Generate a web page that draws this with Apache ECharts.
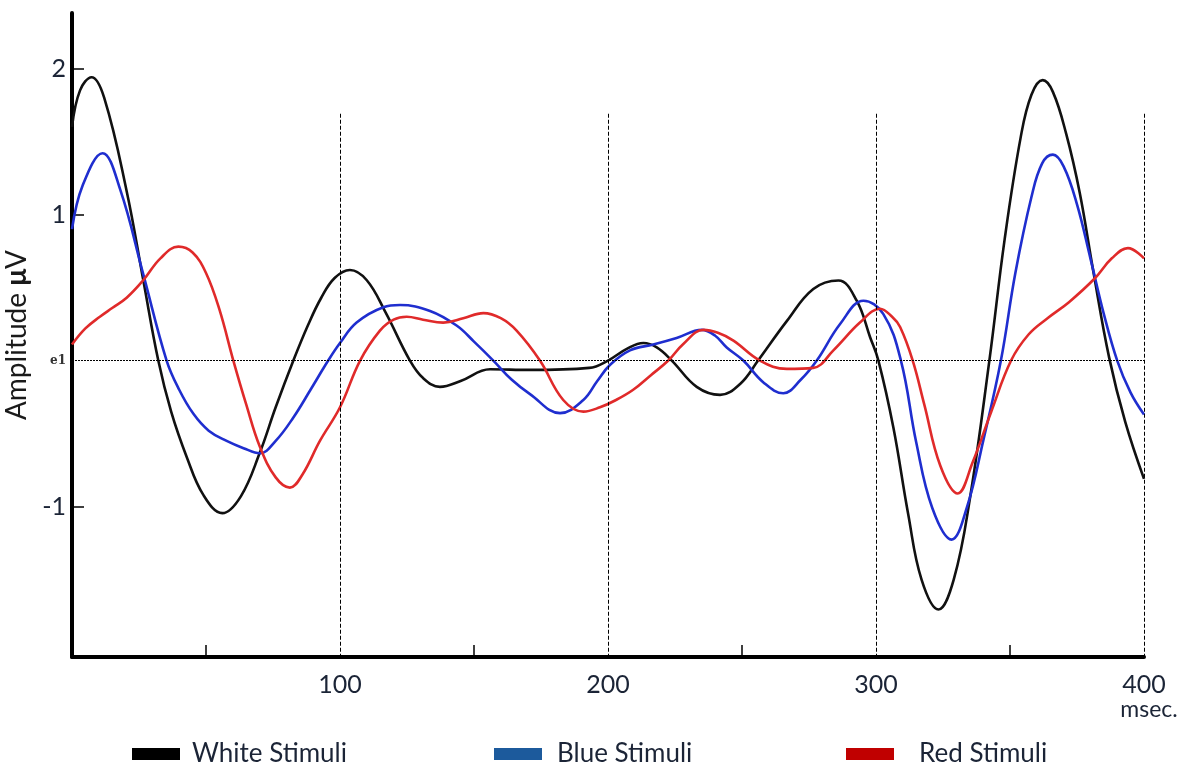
<!DOCTYPE html>
<html>
<head>
<meta charset="utf-8">
<script src="https://cdn.jsdelivr.net/npm/echarts@6/dist/echarts.min.js"></script>
<style>
html, body { margin: 0; padding: 0; background: #ffffff; }
#chart { width: 1186px; height: 767px; }
</style>
</head>
<body>
<div id="chart"></div>
<script>
// Averaged ERP waveforms: [time in ms, amplitude in µV]
const whiteStimuli = [
  [0, 1.60], [3, 1.85], [7.3, 1.94], [12, 1.80], [20.4, 1.16], [26.6, 0.55], [32.2, 0],
  [37, -0.35], [42.8, -0.66], [49, -0.92], [56.1, -1.045], [63, -0.93], [70.1, -0.63],
  [76, -0.32], [82.6, 0], [88, 0.24], [93, 0.43], [98, 0.565], [103.7, 0.62], [110, 0.55],
  [117, 0.33], [126.1, 0], [131, -0.12], [137.3, -0.18], [145, -0.14], [156, -0.06],
  [171, -0.064], [193, -0.05], [200, 0], [207, 0.08], [213.2, 0.12], [218.2, 0.09],
  [223.8, 0], [233.1, -0.18], [241.8, -0.235], [249.3, -0.16], [256, 0], [266.7, 0.27],
  [276.6, 0.49], [286, 0.548], [292.8, 0.41], [297.8, 0.16], [300.9, 0], [306.5, -0.46],
  [312, -1.05], [317, -1.50], [323.3, -1.705], [329, -1.50], [335, -0.95], [342.3, 0],
  [348, 0.83], [354, 1.53], [358, 1.82], [362.2, 1.92], [366, 1.84], [371, 1.55],
  [376, 1.15], [381, 0.62], [387, 0.02], [393, -0.42], [400, -0.81]
];
const blueStimuli = [
  [0, 0.90], [4, 1.20], [11.4, 1.42], [18, 1.17], [26.6, 0.59], [35.3, 0], [40, -0.20],
  [45.3, -0.365], [51, -0.48], [57.7, -0.55], [64, -0.60], [70.1, -0.635], [76, -0.55],
  [82.6, -0.39], [89, -0.20], [95.6, 0], [100, 0.12], [106.2, 0.26], [116.2, 0.365],
  [122.4, 0.38], [133.6, 0.34], [143.5, 0.24], [150, 0.13], [157.2, 0], [164, -0.13],
  [170.9, -0.23], [182.1, -0.36], [190.8, -0.27], [196, -0.14], [200.7, -0.03],
  [208.2, 0.07], [216.9, 0.11], [225.6, 0.155], [235, 0.21], [240, 0.17], [244.3, 0.09],
  [250.5, 0], [258, -0.15], [265.4, -0.224], [272, -0.13], [277.9, 0], [286.6, 0.25],
  [295.3, 0.41], [302.7, 0.32], [309.3, 0], [315, -0.56], [321, -1.01], [328.2, -1.226],
  [334, -1.00], [340, -0.55], [346.6, 0], [352, 0.60], [358, 1.12], [362, 1.35], [366, 1.41],
  [370, 1.33], [375, 1.07], [380, 0.70], [385, 0.32], [390, 0], [395, -0.22], [400, -0.37]
];
const redStimuli = [
  [0, 0.11], [5, 0.22], [10.4, 0.30], [15, 0.36], [20.4, 0.43], [26.6, 0.55], [33, 0.70],
  [39.7, 0.78], [45, 0.74], [50, 0.60], [55, 0.35], [60.2, 0], [65, -0.30],
  [70.1, -0.59], [76, -0.80], [81.3, -0.87], [86, -0.78], [92.5, -0.55], [100, -0.32],
  [107.5, 0], [114.9, 0.205], [120, 0.28], [124.9, 0.30], [131, 0.28], [138.5, 0.26],
  [146, 0.29], [153.5, 0.325], [160, 0.29], [165.9, 0.205], [174.6, 0], [183.3, -0.27],
  [190.8, -0.35], [197, -0.32], [203, -0.27], [209.4, -0.20], [216, -0.10], [222.5, 0],
  [228.1, 0.114], [235.6, 0.21], [241, 0.19], [246.8, 0.137], [256.7, 0], [266.7, -0.057],
  [276.6, -0.05], [284.1, 0.07], [294, 0.26], [301.5, 0.355], [306, 0.30], [309, 0.23],
  [313.7, 0], [318, -0.30], [324, -0.72], [330.5, -0.91], [336, -0.70], [343, -0.35],
  [350.4, 0], [357, 0.18], [364, 0.29], [372, 0.40], [381.5, 0.56], [388, 0.70],
  [394, 0.77], [400, 0.70]
];

const seriesNames = ['White Stimuli', 'Blue Stimuli', 'Red Stimuli'];
const xLabelValues = [100, 200, 300, 400];
const xMinorTicks = [50, 150, 250, 350];
const yLabelValues = [-1, 0, 1, 2];
const yTickValues = [-1, 1, 2];
const markerTimes = [100, 200, 300, 400];

const Y_MIN = -2.03;
const Y_MAX = 2.38;
const MARKER_TOP = 1.69;
const FONT = 'Lato, "Open Sans", sans-serif';
const TEXT_COLOR = '#1b2436';

const chart = echarts.init(document.getElementById('chart'), null, { renderer: 'canvas' });

function legendItem(name, left, gap, iconColor) {
  return {
    data: [{ name: name, itemStyle: { color: iconColor, borderWidth: 0 } }],
    left: left,
    top: 741,
    padding: 0,
    icon: 'rect',
    itemWidth: 48,
    itemHeight: 12,
    selectedMode: false,
    textStyle: { fontFamily: FONT, fontSize: 26, color: TEXT_COLOR, padding: [0, 0, 0, gap] }
  };
}

function waveSeries(name, data, color) {
  return {
    name: name,
    type: 'line',
    data: data,
    showSymbol: false,
    smooth: 0.4,
    lineStyle: { color: color, width: 2.6 },
    itemStyle: { color: color },
    emphasis: { disabled: true },
    z: 3
  };
}

const option = {
  animation: false,
  backgroundColor: '#ffffff',
  grid: { left: 72, right: 42, top: 13, bottom: 110, containLabel: false, outerBoundsMode: 'none' },
  legend: [
    legendItem(seriesNames[0], 132, 7, '#000000'),
    legendItem(seriesNames[1], 494, 10, '#1c5a9c'),
    legendItem(seriesNames[2], 846, 20, '#c00000')
  ],
  xAxis: {
    type: 'value',
    min: 0,
    max: 400,
    interval: 50,
    splitLine: { show: false },
    axisLine: { show: true, onZero: false, lineStyle: { color: '#000000', width: 4 } },
    axisTick: {
      show: true, inside: true, length: 12, customValues: xMinorTicks,
      lineStyle: { color: '#000000', width: 1.5 }
    },
    axisLabel: {
      customValues: xLabelValues,
      margin: 14,
      fontFamily: FONT,
      fontSize: 25,
      lineHeight: 27,
      color: TEXT_COLOR,
      formatter: function (v) { return v === 400 ? '400\n{m|msec.}' : String(v); },
      rich: { m: { fontFamily: FONT, fontSize: 23, lineHeight: 24, color: TEXT_COLOR, padding: [0, 0, 0, 10] } }
    }
  },
  yAxis: {
    type: 'value',
    min: Y_MIN,
    max: Y_MAX,
    splitLine: { show: false },
    axisLine: { show: true, onZero: false, lineStyle: { color: '#000000', width: 4 } },
    axisTick: {
      show: true, inside: true, length: 12, customValues: yTickValues,
      lineStyle: { color: '#000000', width: 1.5 }
    },
    axisLabel: {
      customValues: yLabelValues,
      margin: 6,
      fontFamily: FONT,
      fontSize: 25,
      color: TEXT_COLOR,
      formatter: function (v) { return v === 0 ? '{e|e1}' : String(v); },
      rich: { e: { fontFamily: '"DejaVu Serif", serif', fontWeight: 'bold', fontSize: 12, color: '#333333' } }
    },
    name: 'Amplitude {b|μ}V',
    nameLocation: 'middle',
    nameRotate: 90,
    nameGap: 36,
    nameTextStyle: {
      fontFamily: FONT, fontSize: 28, color: '#1a1a1a',
      rich: { b: { fontFamily: FONT, fontSize: 28, fontWeight: 'bold', color: '#1a1a1a' } }
    }
  },
  series: [
    {
      name: 'reference',
      type: 'line',
      data: [],
      silent: true,
      z: 2,
      markLine: {
        silent: true,
        symbol: 'none',
        label: { show: false },
        emphasis: { disabled: true },
        animation: false,
        data: [
          { yAxis: 0, lineStyle: { color: '#000000', width: 1, type: [2, 1] } }
        ].concat(markerTimes.map(function (t) {
          return [
            { coord: [t, MARKER_TOP], lineStyle: { color: '#000000', width: 1, type: [4, 2] } },
            { coord: [t, Y_MIN] }
          ];
        }))
      }
    },
    waveSeries(seriesNames[0], whiteStimuli, '#111111'),
    waveSeries(seriesNames[1], blueStimuli, '#1f2ecf'),
    waveSeries(seriesNames[2], redStimuli, '#e02a2a')
  ]
};

chart.setOption(option);
</script>
</body>
</html>
